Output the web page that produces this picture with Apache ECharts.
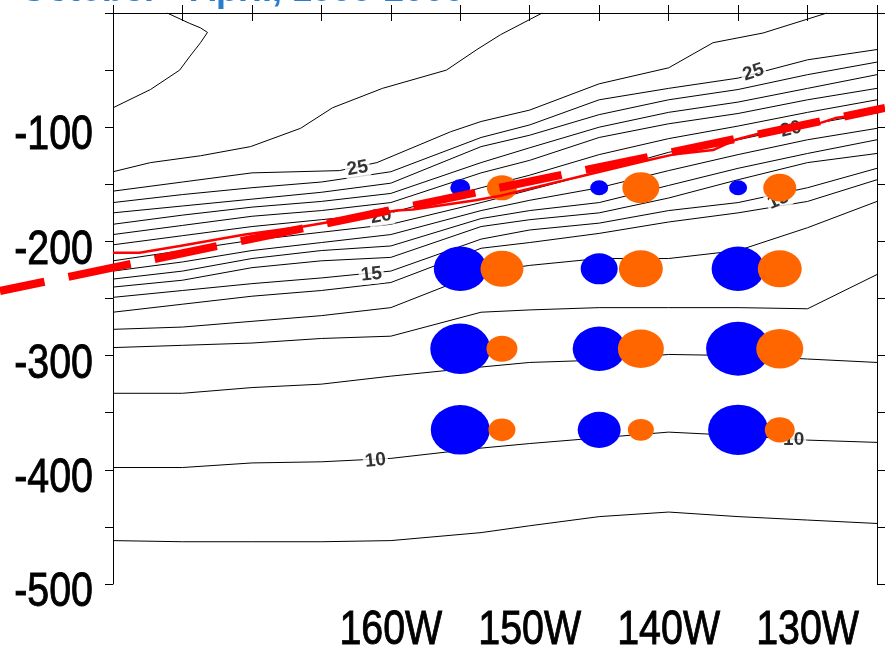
<!DOCTYPE html>
<html>
<head>
<meta charset="utf-8">
<script src="https://cdn.jsdelivr.net/npm/echarts@6/dist/echarts.min.js"></script>
<style>
html, body { margin: 0; padding: 0; background: #fff; }
#chart { width: 885px; height: 648px; }
</style>
</head>
<body>
<div id="chart"></div>
<script>
/* isotherm section, depth vs longitude (deg E, 180..235) */

// longitudes where the isotherm depths were read
var lons = [180, 185, 190, 195, 200, 206.5, 210, 215, 220, 225, 230, 235];

// isotherm depths (m), one array per level, read at lons
var t24 = [-166, -159, -153, -148, -139, -109, -98, -76, -66, -57, -41, -32];
var t23 = [-175, -169, -163, -157, -149, -117, -107, -89, -76, -67, -54, -43];
var t22 = [-185, -177, -170, -165, -158, -131, -118, -100, -87, -78, -66, -54];
var t21 = [-194, -186, -178, -173, -166, -140, -129, -109, -97, -88, -76, -66];
var t20 = [-203, -195, -187, -181, -175, -153, -142, -124, -110, -99, -87, -76];
var t19 = [-217, -208, -199, -192, -185, -166, -155, -139, -122, -111, -98, -87];
var t18 = [-226, -218, -208, -201, -194, -173, -164, -153, -138, -124, -111, -101];
var t17 = [-233, -226, -215, -208, -204, -180, -173, -166, -151, -136, -123, -111];
var t16 = [-240, -234, -223, -217, -214, -187, -181, -175, -162, -146, -131, -123];
var t15 = [-249, -243, -237, -232, -226, -198, -190, -184, -173, -166, -153, -136];
var t14 = [-262, -255, -248, -243, -236, -206, -201, -193, -183, -175, -165, -146];
var t13 = [-277, -275, -270, -265, -258, -227, -221, -215, -215, -208, -188, -165];
var t12 = [-293, -291, -289, -285, -283, -262, -260, -258, -258, -258, -259, -229];
var t11 = [-333, -333, -328, -325, -318, -310, -306, -304, -299, -300, -303, -306];
var t10 = [-398, -398, -394, -393, -390, -381, -377, -372, -367, -370, -374, -376];
var t9  = [-462, -463, -463, -463, -462, -455, -449, -441, -437, -441, -444, -447];

// isotherms that bend back or reach the surface: [lon, depth]
var t27 = [[180, -83], [182.7, -67], [184.8, -50], [185.5, -38.5], [186.3, -26], [186.8, -17], [186.3, -13], [185.5, -9], [183.9, 0]];
var t26 = [[180, -139], [182.7, -131], [186.3, -125], [189.9, -117], [193.5, -101], [195.8, -83], [199.4, -66], [204, -50], [206.2, -32], [207.9, -19], [210.9, 0]];
var t25 = [[180, -156], [185, -148], [190, -140], [196.3, -138], [199, -131], [204.3, -104], [206.5, -95], [210, -85], [215, -62], [220, -48], [223.2, -26], [226.8, -17.5], [231.4, 0]];

// contour labels: [lon, depth, text]
var contourLabels = [
    [197.6, -136, '25'], [226.1, -52, '25'],
    [199.3, -178, '20'], [228.8, -102, '20'],
    [198.6, -229, '15'], [227.9, -164, '15'],
    [198.9, -392, '10'], [229.0, -374, '10']
];

// bubbles: blue at the moorings, orange next to them
var blueLon = [205, 215, 225];
var orangeLon = [208, 218, 228];
var bubbleDepth = [-153, -224, -294, -365];
var blueAmp = [[2.0, 1.8, 1.8], [5.3, 3.7, 5.3], [6.0, 5.3, 6.4], [5.9, 4.3, 6.0]];
var orangeAmp = [[3.0, 3.7, 3.3], [4.3, 4.4, 4.4], [3.1, 4.6, 4.7], [2.7, 2.6, 3.0]];

// red lines
var redTrend = [[171.86, -243.4], [235.58, -83.2]];
var thinRed = [[180, -210], [181.9, -210], [184.8, -204], [189.5, -194], [193.7, -187], [200.4, -173], [201.6, -172],
    [206.1, -164], [207.9, -160], [212.3, -147], [214, -142], [218.5, -129], [220.3, -124], [223.2, -120],
    [224.8, -111], [226.4, -106], [231, -96], [232, -92], [235, -87]];

// axis ranges and tick labels
var xMin = 180, xMax = 235;
var yMin = -500, yMax = 0;
var xLabelLons = [200, 210, 220, 230];
var yLabelDepths = [-100, -200, -300, -400, -500];

var chart = echarts.init(document.getElementById('chart'));
var narrowFont = "48px 'Liberation Sans', Arial, sans-serif";

function iso(depths) {
    return lons.map(function (l, i) { return [l, depths[i]]; });
}

var levels = [t27, t26, t25, iso(t24), iso(t23), iso(t22), iso(t21), iso(t20), iso(t19), iso(t18),
    iso(t17), iso(t16), iso(t15), iso(t14), iso(t13), iso(t12), iso(t11), iso(t10), iso(t9)];

var series = [];
levels.forEach(function (pts) {
    series.push({
        type: 'line', data: pts, showSymbol: false, symbol: 'none', smooth: false, silent: true, z: 2,
        lineStyle: { color: '#000', width: 1 }
    });
});

// label tilt follows the local slope of the isotherm
var labelTilt = [10, 18, 10, 14, 6, 24, 6, 0];
series.push({
    type: 'scatter', z: 3, silent: true, symbolSize: 0,
    data: contourLabels.map(function (c, i) {
        return { value: [c[0], c[1]], label: { formatter: c[2], rotate: labelTilt[i] } };
    }),
    label: {
        show: true, position: 'inside', color: '#000', fontSize: 19, fontWeight: 'bold',
        fontFamily: 'Liberation Sans, Arial, sans-serif', backgroundColor: '#fff', padding: [0, 2]
    }
});

function bubbles(lonList, amps, color) {
    var data = [];
    bubbleDepth.forEach(function (d, r) {
        lonList.forEach(function (l, c) { data.push([l, d, amps[r][c]]); });
    });
    return {
        type: 'scatter', z: 4, silent: true, data: data,
        symbol: 'circle',
        symbolSize: function (v) { return [v[2] * 10, v[2] * 8.4]; },
        itemStyle: { color: color, opacity: 1 }
    };
}
series.push(bubbles(blueLon, blueAmp, '#0000ff'));
series.push(bubbles(orangeLon, orangeAmp, '#ff6600'));

series.push({
    type: 'line', data: thinRed, showSymbol: false, symbol: 'none', z: 5, silent: true,
    lineStyle: { color: '#ff0000', width: 2.5 }
});

// thick dashed trend runs past the left frame, so draw it unclipped
series.push({
    type: 'custom', z: 6, silent: true, clip: false, data: redTrend,
    renderItem: function (params, api) {
        if (params.dataIndex !== 0) return null;
        var pts = redTrend.map(function (p) { return api.coord(p); });
        return {
            type: 'polyline', shape: { points: pts },
            style: { stroke: '#ff0000', fill: null, lineWidth: 8, lineDash: [63.5, 24.5], lineDashOffset: 18 }
        };
    }
});

// narrow axis labels (Arial Narrow look): Liberation Sans squeezed horizontally
var labelStyle = { fill: '#000', stroke: '#000', lineWidth: 0.9, font: narrowFont };
series.push({
    type: 'custom', z: 7, silent: true, clip: false,
    data: xLabelLons.map(function (l) { return [l, yMin]; }),
    renderItem: function (params, api) {
        var p = api.coord([api.value(0), api.value(1)]);
        return {
            type: 'text', x: p[0], y: p[1] + 23, scaleX: 0.82,
            style: Object.assign({
                text: (360 - api.value(0)) + 'W',
                align: 'center', verticalAlign: 'top', textAlign: 'center', textVerticalAlign: 'top'
            }, labelStyle)
        };
    }
});
series.push({
    type: 'custom', z: 7, silent: true, clip: false,
    data: yLabelDepths.map(function (d) { return [xMin, d]; }),
    renderItem: function (params, api) {
        var p = api.coord([api.value(0), api.value(1)]);
        return {
            type: 'text', x: p[0] - 20, y: p[1] + 9, scaleX: 0.82,
            style: Object.assign({
                text: String(api.value(1)),
                align: 'right', verticalAlign: 'middle', textAlign: 'right', textVerticalAlign: 'middle'
            }, labelStyle)
        };
    }
});

var axisBase = {
    axisLine: { show: true, lineStyle: { color: '#000', width: 1 } },
    axisTick: { show: true, inside: false, length: 8, lineStyle: { color: '#000', width: 1 } },
    axisLabel: { show: false },
    splitLine: { show: false }
};

var option = {
    animation: false,
    backgroundColor: '#fff',
    title: {
        text: 'October - April, 1999-2000',
        left: 20, top: -27, padding: 0,
        textStyle: { color: '#2a7ccc', fontSize: 36, fontWeight: 'bold', fontFamily: 'Liberation Sans, Arial, sans-serif' }
    },
    grid: { left: 113, right: 8, top: 13, bottom: 64, containLabel: false, outerBoundsMode: 'none' },
    xAxis: [
        Object.assign({}, axisBase, { type: 'value', min: xMin, max: xMax, interval: 5, position: 'bottom' }),
        Object.assign({}, axisBase, { type: 'value', min: xMin, max: xMax, interval: 5, position: 'top' })
    ],
    yAxis: [
        Object.assign({}, axisBase, { type: 'value', min: yMin, max: yMax, interval: 50, position: 'left' }),
        Object.assign({}, axisBase, { type: 'value', min: yMin, max: yMax, interval: 50, position: 'right' })
    ],
    series: series
};

chart.setOption(option);
</script>
</body>
</html>
